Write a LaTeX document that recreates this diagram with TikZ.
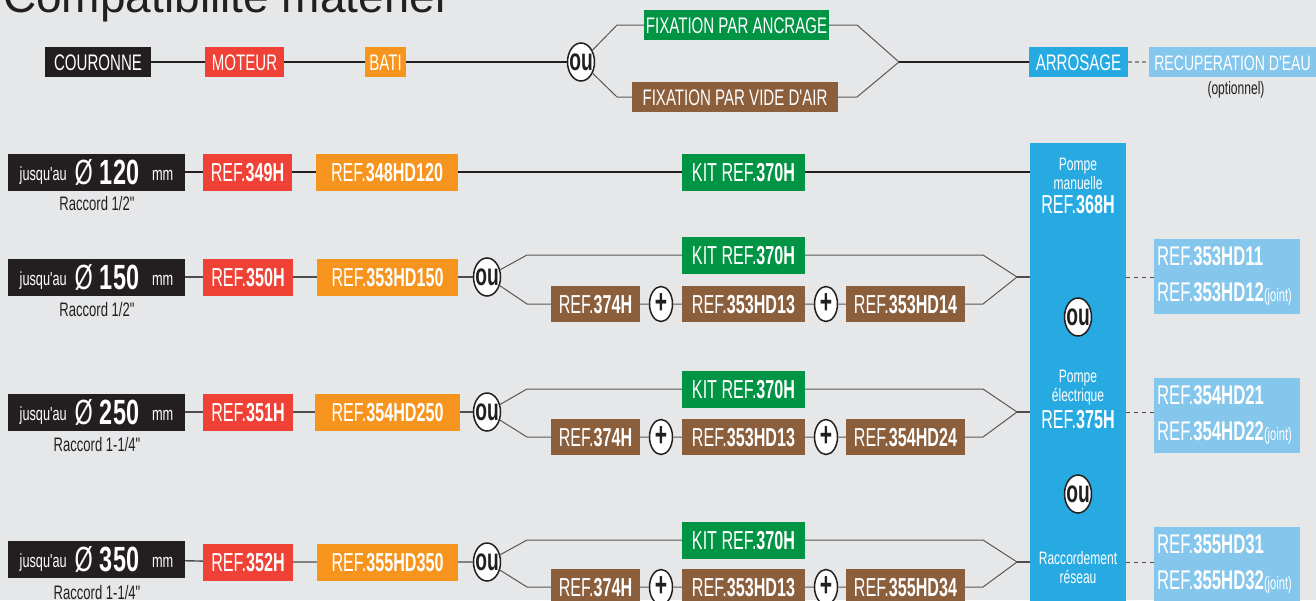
\documentclass[tikz,border=0pt]{standalone}
\usepackage{fontspec}
\setmainfont{Liberation Sans}[FakeStretch=0.67, Ligatures=TeXOff]
\newfontfamily\refcond{Liberation Sans}[FakeStretch=0.62, Ligatures=TeXOff]
\newfontfamily\titrefont{Liberation Sans}[Ligatures=TeXOff]
\usetikzlibrary{shapes.geometric}

\definecolor{fond}{HTML}{E6E7E8}
\definecolor{noir}{HTML}{231F20}
\definecolor{rougeref}{HTML}{EF4136}
\definecolor{orangeref}{HTML}{F7941D}
\definecolor{vertkit}{HTML}{009444}
\definecolor{brunref}{HTML}{8B5E3C}
\definecolor{bleupompe}{HTML}{27AAE1}
\definecolor{bleuclair}{HTML}{84C6EC}

\newcommand{\taille}[1]{\fontsize{#1}{#1}\selectfont}

\begin{document}
\begin{tikzpicture}[x=1pt, y=-1pt,
	every node/.style={inner sep=0pt, text=white, font=\refcond\taille{26}},
	refbox/.style={minimum height=37pt, text height=19pt, text depth=0pt},
	haut/.style={minimum height=30pt, text height=16pt, text depth=0pt, font=\taille{22.5}},
	diametre/.style={fill=noir, minimum width=177pt, minimum height=37pt, text height=25pt, text depth=0pt, font=\taille{35}},
	raccord/.style={text=noir, font=\taille{19.5}},
	ou/.style={ellipse, draw=noir, line width=1.5pt, fill=white, minimum width=27pt, minimum height=38pt},
	plusrond/.style={ellipse, draw=noir, line width=1.5pt, fill=white, minimum width=23pt, minimum height=35pt},
	outxt/.style={text=noir, font=\refcond\taille{31}\bfseries},
	plustxt/.style={text=noir, font=\refcond\taille{34}\bfseries},
	pompetxt/.style={align=center, font=\fontsize{18}{19}\selectfont},
	bleuref/.style={fill=bleuclair, align=left, text width=140pt, inner xsep=3pt, minimum height=75pt, font=\refcond\fontsize{27}{36}\selectfont},
	trait/.style={draw=noir, line width=2pt},
	traitfin/.style={draw=noir!80, line width=1.4pt},
	branche/.style={draw=noir!75, line width=1pt},
	tirets/.style={draw=noir!80, line width=1pt, dash pattern=on 4pt off 4pt},
	tiretsgris/.style={draw=noir!50, line width=2pt, dash pattern=on 4pt off 3pt}]
	\useasboundingbox (0,0) rectangle (1316,600);
	\fill[fond] (0,0) rectangle (1316,600);
	\node[anchor=base west, text=noir, font=\titrefont\fontsize{46}{46}\selectfont] (titre) at (3,12) {Compatibilité matériel};

	% ligne du haut
	\node[haut, fill=noir, minimum width=106pt] (couronne) at (98,62) {COURONNE};
	\node[haut, fill=rougeref, minimum width=79pt] (moteur) at (244.5,62) {MOTEUR};
	\node[haut, fill=orangeref, minimum width=41pt] (bati) at (385.5,62) {BATI};
	\node[ou, label={[outxt]center:ou}] (ou0) at (581,62) {};
	\node[haut, fill=vertkit, minimum width=185pt] (ancrage) at (736.5,25) {FIXATION PAR ANCRAGE};
	\node[haut, fill=brunref, minimum width=206pt] (videair) at (735,97) {FIXATION PAR VIDE D'AIR};
	\node[haut, fill=bleupompe, minimum width=99pt] (arrosage) at (1078.5,62) {ARROSAGE};
	\node[haut, fill=bleuclair, minimum width=167pt, font=\taille{21}] (recup) at (1232.5,62) {RECUPERATION D'EAU};
	\node[text=noir, font=\taille{18}] (optionnel) at (1236,90) {(optionnel)};
	\coordinate (a1) at (617,25);
	\coordinate (a2) at (857,25);
	\coordinate (v1) at (617,97);
	\coordinate (v2) at (857,97);
	\coordinate (fix) at (899,62);
	\draw[trait] (couronne) -- (moteur) -- (bati) -- (ou0);
	\draw[branche] (ou0) -- (a1) -- (ancrage) -- (a2) -- (fix);
	\draw[branche] (ou0) -- (v1) -- (videair) -- (v2) -- (fix);
	\draw[trait] (fix) -- (arrosage);
	\draw[tiretsgris] (arrosage) -- (recup);

	% colonne des pompes
	\node[fill=bleupompe, minimum width=96pt, minimum height=480pt, anchor=north] (pompe) at (1078,143) {};
	\node[pompetxt] (manuelle) at (1078,186) {Pompe\\manuelle\\[5pt]{\refcond\taille{26}REF.\textbf{368H}}};
	\node[ou, label={[outxt]center:ou}] (oupompe1) at (1078,317) {};
	\node[pompetxt] (electrique) at (1078,399.5) {Pompe\\électrique\\[5pt]{\refcond\taille{26}REF.\textbf{375H}}};
	\node[ou, label={[outxt]center:ou}] (oupompe2) at (1078,494) {};
	\node[pompetxt] (reseau) at (1078,567.5) {Raccordement\\réseau};

	% 120 mm
	\node[diametre] (dia1) at (96.5,172) {\raisebox{4pt}{\taille{19}jusqu'au}\hspace{8pt}Ø\hspace{7pt}\textbf{120}\hspace{13pt}\raisebox{4pt}{\taille{19}mm}};
	\node[raccord] (rac1) at (97,204) {Raccord 1/2"};
	\node[refbox, fill=rougeref, minimum width=89pt] (ref349) at (247.5,172) {REF.\textbf{349H}};
	\node[refbox, fill=orangeref, minimum width=142pt] (ref348) at (387,172) {REF.\textbf{348HD120}};
	\node[refbox, fill=vertkit, minimum width=123pt] (kit1) at (743.5,172) {KIT REF.\textbf{370H}};
	\draw[trait] (dia1) -- (ref349) -- (ref348) -- (kit1) -- (kit1 -| pompe.west);

	% 150 mm
	\node[diametre] (dia2) at (96.5,277) {\raisebox{4pt}{\taille{19}jusqu'au}\hspace{8pt}Ø\hspace{7pt}\textbf{150}\hspace{13pt}\raisebox{4pt}{\taille{19}mm}};
	\node[raccord] (rac2) at (97,310) {Raccord 1/2"};
	\node[refbox, fill=rougeref, minimum width=90pt] (ref350) at (248,277) {REF.\textbf{350H}};
	\node[refbox, fill=orangeref, minimum width=141pt] (ref353) at (387.5,277) {REF.\textbf{353HD150}};
	\node[ou, label={[outxt]center:ou}] (ou2) at (487,277) {};
	\node[refbox, fill=vertkit, minimum width=123pt] (kit2) at (743.5,255) {KIT REF.\textbf{370H}};
	\node[refbox, fill=brunref, minimum width=89pt, minimum height=36pt] (r374a) at (595.5,304) {REF.\textbf{374H}};
	\node[plusrond, label={[plustxt]center:+}] (plus2a) at (661,304) {};
	\node[refbox, fill=brunref, minimum width=123pt, minimum height=36pt] (r13a) at (743.5,304) {REF.\textbf{353HD13}};
	\node[plusrond, label={[plustxt]center:+}] (plus2b) at (826,304) {};
	\node[refbox, fill=brunref, minimum width=119pt, minimum height=36pt] (r14) at (905.5,304) {REF.\textbf{353HD14}};
	\node[bleuref] (lb2) at (1227,276) {REF.\textbf{353HD11}\\REF.\textbf{353HD12}{\taille{18}(joint)}};
	\coordinate (h2a) at (527,255);
	\coordinate (h2b) at (983,255);
	\coordinate (l2a) at (527,304);
	\coordinate (l2b) at (983,304);
	\coordinate (m2) at (1017,277);
	\draw[traitfin] (dia2) -- (ref350) -- (ref353) -- (ou2);
	\draw[branche] (ou2) -- (h2a) -- (kit2) -- (h2b) -- (m2);
	\draw[branche] (ou2) -- (l2a) -- (r374a) -- (plus2a) -- (r13a) -- (plus2b) -- (r14) -- (l2b) -- (m2);
	\draw[traitfin] (m2) -- (m2 -| pompe.west);
	\draw[tirets] (pompe.east |- m2) -- (m2 -| lb2.west);

	% 250 mm
	\node[diametre] (dia3) at (96.5,412) {\raisebox{4pt}{\taille{19}jusqu'au}\hspace{8pt}Ø\hspace{7pt}\textbf{250}\hspace{13pt}\raisebox{4pt}{\taille{19}mm}};
	\node[raccord] (rac3) at (97,445) {Raccord 1-1/4"};
	\node[refbox, fill=rougeref, minimum width=90pt] (ref351) at (248,412) {REF.\textbf{351H}};
	\node[refbox, fill=orangeref, minimum width=145pt] (ref354) at (387.5,412) {REF.\textbf{354HD250}};
	\node[ou, label={[outxt]center:ou}] (ou3) at (487,412) {};
	\node[refbox, fill=vertkit, minimum width=123pt] (kit3) at (743.5,389) {KIT REF.\textbf{370H}};
	\node[refbox, fill=brunref, minimum width=89pt, minimum height=36pt] (r374b) at (595.5,437) {REF.\textbf{374H}};
	\node[plusrond, label={[plustxt]center:+}] (plus3a) at (661,437) {};
	\node[refbox, fill=brunref, minimum width=123pt, minimum height=36pt] (r13b) at (743.5,437) {REF.\textbf{353HD13}};
	\node[plusrond, label={[plustxt]center:+}] (plus3b) at (826,437) {};
	\node[refbox, fill=brunref, minimum width=119pt, minimum height=36pt] (r24) at (905.5,437) {REF.\textbf{354HD24}};
	\node[bleuref] (lb3) at (1227,415) {REF.\textbf{354HD21}\\REF.\textbf{354HD22}{\taille{18}(joint)}};
	\coordinate (h3a) at (527,389);
	\coordinate (h3b) at (983,389);
	\coordinate (l3a) at (527,437);
	\coordinate (l3b) at (983,437);
	\coordinate (m3) at (1017,412);
	\draw[traitfin] (dia3) -- (ref351) -- (ref354) -- (ou3);
	\draw[branche] (ou3) -- (h3a) -- (kit3) -- (h3b) -- (m3);
	\draw[branche] (ou3) -- (l3a) -- (r374b) -- (plus3a) -- (r13b) -- (plus3b) -- (r24) -- (l3b) -- (m3);
	\draw[traitfin] (m3) -- (m3 -| pompe.west);
	\draw[tirets] (pompe.east |- m3) -- (m3 -| lb3.west);

	% 350 mm
	\node[diametre] (dia4) at (96.5,559) {\raisebox{4pt}{\taille{19}jusqu'au}\hspace{8pt}Ø\hspace{7pt}\textbf{350}\hspace{13pt}\raisebox{4pt}{\taille{19}mm}};
	\node[raccord] (rac4) at (97,593) {Raccord 1-1/4"};
	\node[refbox, fill=rougeref, minimum width=90pt] (ref352) at (248,562) {REF.\textbf{352H}};
	\node[refbox, fill=orangeref, minimum width=141pt] (ref355) at (387.5,562) {REF.\textbf{355HD350}};
	\node[ou, label={[outxt]center:ou}] (ou4) at (487,562) {};
	\node[refbox, fill=vertkit, minimum width=123pt] (kit4) at (743.5,540) {KIT REF.\textbf{370H}};
	\node[refbox, fill=brunref, minimum width=89pt, minimum height=36pt] (r374c) at (595.5,587) {REF.\textbf{374H}};
	\node[plusrond, label={[plustxt]center:+}] (plus4a) at (661,587) {};
	\node[refbox, fill=brunref, minimum width=123pt, minimum height=36pt] (r13c) at (743.5,587) {REF.\textbf{353HD13}};
	\node[plusrond, label={[plustxt]center:+}] (plus4b) at (826,587) {};
	\node[refbox, fill=brunref, minimum width=119pt, minimum height=36pt] (r34) at (905.5,587) {REF.\textbf{355HD34}};
	\node[bleuref] (lb4) at (1227,564) {REF.\textbf{355HD31}\\REF.\textbf{355HD32}{\taille{18}(joint)}};
	\coordinate (h4a) at (527,540);
	\coordinate (h4b) at (983,540);
	\coordinate (l4a) at (527,587);
	\coordinate (l4b) at (983,587);
	\coordinate (m4) at (1017,562);
	\draw[traitfin] (dia4) -- (ref352) -- (ref355) -- (ou4);
	\draw[branche] (ou4) -- (h4a) -- (kit4) -- (h4b) -- (m4);
	\draw[branche] (ou4) -- (l4a) -- (r374c) -- (plus4a) -- (r13c) -- (plus4b) -- (r34) -- (l4b) -- (m4);
	\draw[traitfin] (m4) -- (m4 -| pompe.west);
	\draw[tirets] (pompe.east |- m4) -- (m4 -| lb4.west);
\end{tikzpicture}
\end{document}
